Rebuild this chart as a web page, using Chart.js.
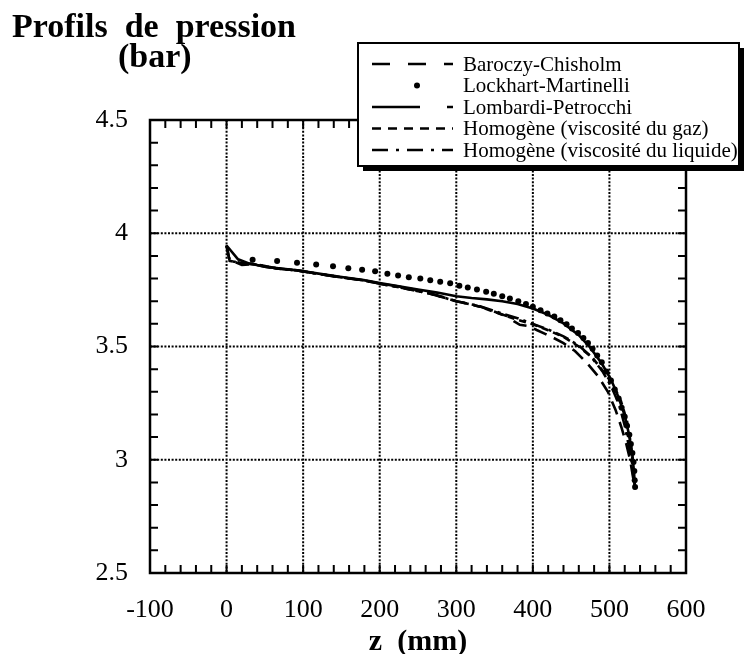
<!DOCTYPE html>
<html>
<head>
<meta charset="utf-8">
<script src="https://cdn.jsdelivr.net/npm/chart.js@4.4.0/dist/chart.umd.min.js"></script>
<style>
  html, body { margin: 0; padding: 0; background: #fff; }
  #wrap { width: 744px; height: 654px; }
</style>
</head>
<body>
<div id="wrap"><canvas id="chart" width="744" height="654"></canvas></div>
<script>
// Axes
const yTickLabels = ['2.5', '3', '3.5', '4', '4.5'];
const xGridValues = [0, 100, 200, 300, 400, 500];
const yGridValues = [3, 3.5, 4];

// Baroczy-Chisholm
const zBaroczy = [0, 4, 12, 20, 35, 50, 65, 92, 118, 148, 179, 200, 225, 250, 266, 285, 300, 315, 331, 345, 366, 375, 383, 395, 405, 416, 427, 440, 455, 470, 485, 498, 508, 516, 522, 527, 530, 532, 533];
const pBaroczy = [3.946, 3.878, 3.872, 3.860, 3.864, 3.852, 3.845, 3.836, 3.822, 3.806, 3.792, 3.778, 3.765, 3.748, 3.735, 3.716, 3.700, 3.690, 3.676, 3.660, 3.634, 3.612, 3.596, 3.590, 3.573, 3.556, 3.538, 3.515, 3.48, 3.43, 3.37, 3.30, 3.22, 3.14, 3.07, 3.0, 2.94, 2.90, 2.87];

// Lockhart-Martinelli (points)
const zLockhart = [34, 66, 92, 117, 139, 159, 177, 194, 210, 224, 238, 253, 266, 279, 292, 304, 315, 327, 339, 349, 360, 370, 381, 391, 400, 410, 419, 428, 436, 444, 451, 459, 466, 472, 478, 484, 490, 496, 502, 507, 512, 516, 520, 523, 526, 528, 530, 531.5, 532.5, 533, 533.5];
const pLockhart = [3.883, 3.877, 3.870, 3.862, 3.854, 3.846, 3.839, 3.832, 3.821, 3.814, 3.806, 3.800, 3.793, 3.786, 3.779, 3.768, 3.760, 3.752, 3.742, 3.733, 3.722, 3.712, 3.700, 3.688, 3.675, 3.660, 3.646, 3.632, 3.616, 3.598, 3.580, 3.560, 3.538, 3.515, 3.49, 3.46, 3.43, 3.39, 3.35, 3.31, 3.27, 3.23, 3.19, 3.15, 3.11, 3.07, 3.03, 2.99, 2.95, 2.91, 2.88];

// Lombardi-Petrocchi
const zLombardi = [0, 15, 30, 50, 65, 92, 118, 148, 179, 200, 225, 250, 275, 300, 320, 340, 360, 380, 400, 420, 440, 460, 475, 490, 502, 512, 520, 526, 530, 532, 533.5];
const pLombardi = [3.946, 3.885, 3.866, 3.852, 3.846, 3.836, 3.823, 3.808, 3.793, 3.780, 3.766, 3.752, 3.738, 3.722, 3.714, 3.708, 3.700, 3.688, 3.668, 3.640, 3.602, 3.550, 3.495, 3.425, 3.355, 3.275, 3.195, 3.105, 3.02, 2.95, 2.87];

// Homogène (viscosité du gaz)
const zHomGaz = [0, 4, 20, 40, 65, 92, 118, 148, 179, 200, 230, 266, 300, 331, 360, 380, 400, 420, 440, 460, 478, 492, 505, 515, 523, 528, 531, 533];
const pHomGaz = [3.946, 3.878, 3.868, 3.862, 3.845, 3.836, 3.822, 3.806, 3.792, 3.777, 3.758, 3.733, 3.700, 3.676, 3.640, 3.618, 3.598, 3.572, 3.542, 3.50, 3.45, 3.39, 3.33, 3.26, 3.17, 3.07, 2.97, 2.88];

// Homogène (viscosité du liquide)
const zHomLiq = [0, 4, 20, 40, 65, 92, 118, 148, 179, 200, 230, 266, 300, 331, 360, 380, 400, 420, 440, 460, 476, 491, 503, 513, 520, 526, 530, 533];
const pHomLiq = [3.946, 3.878, 3.868, 3.862, 3.845, 3.836, 3.822, 3.806, 3.792, 3.777, 3.758, 3.733, 3.700, 3.678, 3.645, 3.625, 3.600, 3.575, 3.545, 3.505, 3.455, 3.39, 3.32, 3.24, 3.15, 3.05, 2.96, 2.88];

const seriesLabels = ['Baroczy-Chisholm', 'Lockhart-Martinelli', 'Lombardi-Petrocchi', 'Homogène (viscosité du gaz)', 'Homogène (viscosité du liquide)'];

const toPoints = (zs, ps) => zs.map((z, i) => ({ x: z, y: ps[i] }));

const SERIF = '"Liberation Serif", "DejaVu Serif", serif';

function lineSet(label, zs, ps, dash) {
    return {
        label: label,
        data: toPoints(zs, ps),
        showLine: true,
        borderColor: '#000',
        borderWidth: 2.6,
        borderDash: dash,
        pointRadius: 0,
        tension: 0
    };
}

// cadre, graduations internes et grille pointillée
const framePlugin = {
    id: 'frame',
    beforeDatasetsDraw(chart) {
        const { ctx, chartArea: a, scales: { x, y } } = chart;
        ctx.save();
        ctx.strokeStyle = '#000';
        ctx.lineWidth = 2;
        ctx.setLineDash([2, 1.6]);
        ctx.beginPath();
        xGridValues.forEach(v => {
            const px = x.getPixelForValue(v);
            ctx.moveTo(px, a.top); ctx.lineTo(px, a.bottom);
        });
        yGridValues.forEach(v => {
            const py = y.getPixelForValue(v);
            ctx.moveTo(a.left, py); ctx.lineTo(a.right, py);
        });
        ctx.stroke();
        ctx.setLineDash([]);
        ctx.lineWidth = 2;
        ctx.beginPath();
        for (let i = -4; i < 30; i++) {
            const px = x.getPixelForValue(i * 20);
            ctx.moveTo(px, a.bottom); ctx.lineTo(px, a.bottom - 8);
            ctx.moveTo(px, a.top); ctx.lineTo(px, a.top + 8);
        }
        for (let i = 26; i < 45; i++) {
            const py = y.getPixelForValue(i / 10);
            ctx.moveTo(a.left, py); ctx.lineTo(a.left + 8, py);
            ctx.moveTo(a.right, py); ctx.lineTo(a.right - 8, py);
        }
        ctx.stroke();
        ctx.lineWidth = 2.5;
        ctx.strokeRect(a.left, a.top, a.right - a.left, a.bottom - a.top);
        ctx.restore();
    }
};

// titres et légende encadrée
const legendDash = [[18, 18], null, [48, 27, 6, 200], [9, 7], [16, 8, 3, 8]];
const textPlugin = {
    id: 'texts',
    afterDraw(chart) {
        const { ctx, chartArea: a } = chart;
        ctx.save();
        ctx.fillStyle = '#000';
        ctx.textBaseline = 'alphabetic';
        ctx.textAlign = 'left';
        ctx.font = 'bold 34px ' + SERIF;
        ctx.fillText('Profils  de  pression', 12, 37);
        ctx.fillText('(bar)', 118, 67);

        ctx.font = 'bold 30px ' + SERIF;
        ctx.textAlign = 'center';
        ctx.fillText('z  (mm)', (a.left + a.right) / 2, 650);

        // légende
        const bx = 358, by = 43, bw = 381, bh = 123;
        ctx.fillRect(bx + 5, by + 5, bw, bh);
        ctx.fillStyle = '#fff';
        ctx.fillRect(bx, by, bw, bh);
        ctx.strokeStyle = '#000';
        ctx.lineWidth = 2;
        ctx.strokeRect(bx, by, bw, bh);
        ctx.fillStyle = '#000';
        ctx.font = '21px ' + SERIF;
        ctx.textAlign = 'left';
        ctx.textBaseline = 'middle';
        seriesLabels.forEach((lab, i) => {
            const ry = by + 21 + i * 21.5;
            if (legendDash[i] === null) {
                ctx.beginPath();
                ctx.arc(417, ry, 3, 0, Math.PI * 2);
                ctx.fill();
            } else {
                ctx.setLineDash(legendDash[i]);
                ctx.lineWidth = 2.6;
                ctx.beginPath();
                ctx.moveTo(372, ry); ctx.lineTo(453, ry);
                ctx.stroke();
                ctx.setLineDash([]);
            }
            ctx.fillText(lab, 463, ry + 1);
        });
        ctx.restore();
    }
};

new Chart(document.getElementById('chart'), {
    type: 'scatter',
    data: {
        datasets: [
            lineSet(seriesLabels[0], zBaroczy, pBaroczy, [14, 8]),
            {
                label: seriesLabels[1],
                data: toPoints(zLockhart, pLockhart),
                showLine: false,
                pointRadius: 3,
                pointBackgroundColor: '#000',
                pointBorderWidth: 0
            },
            lineSet(seriesLabels[2], zLombardi, pLombardi, []),
            lineSet(seriesLabels[3], zHomGaz, pHomGaz, [7, 5]),
            lineSet(seriesLabels[4], zHomLiq, pHomLiq, [14, 5, 3, 5])
        ]
    },
    options: {
        responsive: false,
        animation: false,
        devicePixelRatio: 1,
        layout: { padding: { top: 120, right: 58, left: 0, bottom: 0 } },
        plugins: {
            legend: { display: false },
            tooltip: { enabled: false }
        },
        scales: {
            x: {
                type: 'linear',
                min: -100,
                max: 600,
                afterFit: s => { s.height = 81; },
                grid: { display: false, drawTicks: false },
                border: { display: false },
                ticks: {
                    stepSize: 100,
                    padding: 22,
                    color: '#000',
                    font: { family: SERIF, size: 26 }
                }
            },
            y: {
                type: 'linear',
                min: 2.5,
                max: 4.5,
                afterFit: s => { s.width = 150; },
                grid: { display: false, drawTicks: false },
                border: { display: false },
                ticks: {
                    stepSize: 0.5,
                    padding: 22,
                    color: '#000',
                    font: { family: SERIF, size: 26 },
                    callback: (v, i) => yTickLabels[i]
                }
            }
        }
    },
    plugins: [framePlugin, textPlugin]
});
</script>
</body>
</html>
